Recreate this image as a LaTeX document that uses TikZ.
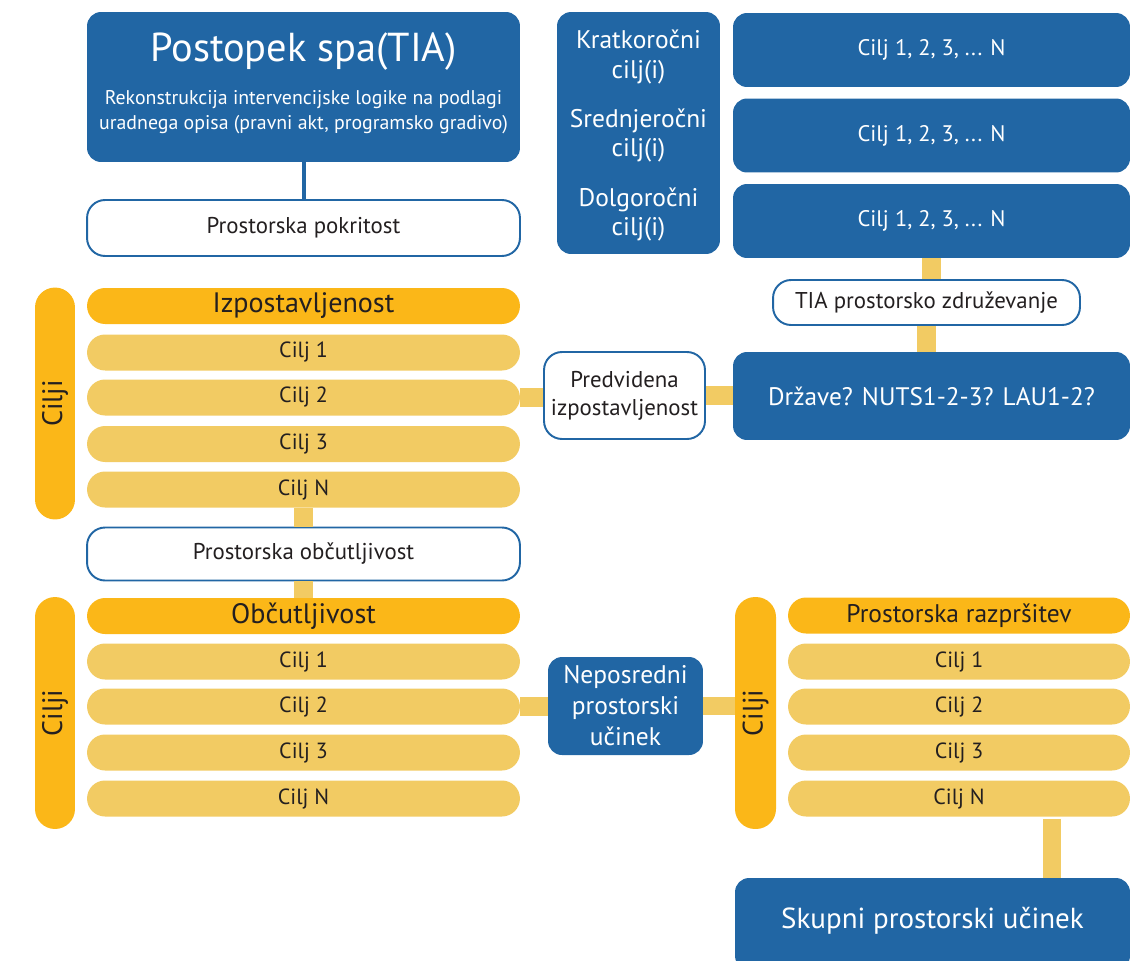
\documentclass[tikz,border=0pt]{standalone}
\usepackage{fontspec}
\setmainfont{PT Sans}
\usetikzlibrary{positioning}

\definecolor{modra}{RGB}{33,102,164}
\definecolor{rumena}{RGB}{251,183,24}
\definecolor{svetla}{RGB}{242,203,99}
\definecolor{crna}{RGB}{35,31,32}

\tikzset{
  modro/.style={rectangle, rounded corners=0.28cm, fill=modra, text=white, inner sep=0pt},
  belo/.style={rectangle, rounded corners=0.36cm, draw=modra, line width=1.1pt, fill=white, text=crna, inner sep=0pt, font=\fontsize{13}{16}\selectfont},
  glava/.style={rectangle, rounded corners=0.36cm, fill=rumena, text=crna, minimum height=0.72cm, inner sep=0pt},
  vrstica/.style={rectangle, rounded corners=0.36cm, fill=svetla, text=crna, minimum height=0.72cm, inner sep=0pt, font=\fontsize{12.5}{14}\selectfont},
  cilji/.style={rectangle, rounded corners=0.4cm, fill=rumena, text=crna, rotate=90, inner sep=0pt, minimum width=4.64cm, minimum height=0.8cm, font=\fontsize{16}{18}\selectfont},
  zveza/.style={svetla, line width=0.37cm},
}

\begin{document}
\begin{tikzpicture}[x=0.02cm, y=-0.02cm]
    \useasboundingbox (0,0) rectangle (1131,960);

    % postopek in pokritost
    \node(postopek) [modro, minimum width=8.66cm, minimum height=3cm] at (303.5,87) {};
    \node(naslov) [text=white, font=\fontsize{23}{26}\selectfont] at (303.5,52) {Postopek spa(TIA)};
    \node(opis) [text=white, align=center, font=\fontsize{11.3}{14.2}\selectfont] at (303.5,112) {Rekonstrukcija intervencijske logike na podlagi\\uradnega opisa (pravni akt, programsko gradivo)};
    \node(pokritost) [belo, minimum width=8.66cm, minimum height=1.12cm] at (303.5,228) {Prostorska pokritost};
    \draw[modra, line width=0.08cm] (postopek) -- (pokritost);

    % roki ciljev
    \node(roki) [modro, minimum width=3.26cm, minimum height=4.84cm] at (638.5,133) {};
    \node(kratko) [text=white, align=center, font=\fontsize{14.5}{17}\selectfont] at (638.5,57) {Kratkoročni\\cilj(i)};
    \node(srednje) [text=white, align=center, font=\fontsize{14.5}{17}\selectfont] at (638.5,135.5) {Srednjeročni\\cilj(i)};
    \node(dolgo) [text=white, align=center, font=\fontsize{14.5}{17}\selectfont] at (638.5,214.5) {Dolgoročni\\cilj(i)};
    \foreach \n/\y in {kratki/50, srednji/135.5, dolgi/221}
      \node(\n) [modro, minimum width=7.94cm, minimum height=1.48cm, font=\fontsize{12.8}{14}\selectfont] at (931.5,\y) {Cilj 1, 2, 3, ... N};

    \node(tia) [belo, minimum width=6.14cm, minimum height=0.9cm] at (926.5,302.5) {TIA prostorsko združevanje};
    \node(drzave) [modro, minimum width=7.94cm, minimum height=1.76cm, font=\fontsize{14.4}{16}\selectfont] at (931.5,396) {Države? NUTS1-2-3? LAU1-2?};
    \draw[zveza] (dolgi) -- (dolgi.south |- tia.north);
    \draw[zveza] (tia) -- (tia.south |- drzave.north);

    % izpostavljenost
    \node(cilji1) [cilji] at (55,403.5) {Cilji};
    \node(izp) [glava, minimum width=8.66cm, font=\fontsize{16}{18}\selectfont] at (303.5,306) {Izpostavljenost};
    \foreach \i/\y in {1/352.5, 2/397.5, 3/444, N/489.5}
      \node(izp\i) [vrstica, minimum width=8.66cm] at (303.5,\y) {Cilj \i};

    \node(predvidena) [belo, align=center, minimum width=3.22cm, minimum height=1.74cm] at (624.5,395.5) {Predvidena\\izpostavljenost};
    \draw[zveza] (izp2.east) -- (izp2.east -| predvidena.west);
    \draw[zveza] (predvidena.east) -- (predvidena.east -| drzave.west);

    \node(obcutl) [belo, minimum width=8.66cm, minimum height=1.06cm] at (303.5,554) {Prostorska občutljivost};
    \draw[zveza] (izpN) -- (obcutl);

    % obcutljivost
    \node(cilji2) [cilji] at (55,713) {Cilji};
    \node(obc) [glava, minimum width=8.66cm, font=\fontsize{16}{18}\selectfont] at (303.5,616) {Občutljivost};
    \foreach \i/\y in {1/661.5, 2/706.5, 3/752.5, N/798.5}
      \node(obc\i) [vrstica, minimum width=8.66cm] at (303.5,\y) {Cilj \i};
    \draw[zveza] (obcutl) -- (obc);

    \node(neposredni) [modro, align=center, minimum width=3.1cm, minimum height=1.96cm, font=\fontsize{14.5}{17.6}\selectfont] at (625.5,706) {Neposredni\\prostorski\\učinek};

    % razprsitev
    \node(cilji3) [cilji, minimum height=0.82cm] at (755.5,713) {Cilji};
    \node(raz) [glava, minimum width=6.84cm, font=\fontsize{14.5}{16}\selectfont] at (959,615.5) {Prostorska razpršitev};
    \foreach \i/\y in {1/661.5, 2/706.5, 3/752.5, N/798.5}
      \node(raz\i) [vrstica, minimum width=6.84cm] at (959,\y) {Cilj \i};
    \draw[zveza] (obc2.east) -- (obc2.east -| neposredni.west);
    \draw[zveza] (neposredni.east) -- (neposredni.east -| cilji3.north);

    \node(skupni) [modro, minimum width=7.9cm, minimum height=1.84cm, font=\fontsize{16.5}{18}\selectfont] at (932.5,924) {};
    \node(skupnitekst) [text=white, font=\fontsize{16.5}{18}\selectfont] at (932.5,921) {Skupni prostorski učinek};
    \draw[zveza] ([xshift=1.86cm, yshift=-0.04cm]razN.south) -- ([xshift=1.86cm]razN.south |- skupni.north);
\end{tikzpicture}
\end{document}
